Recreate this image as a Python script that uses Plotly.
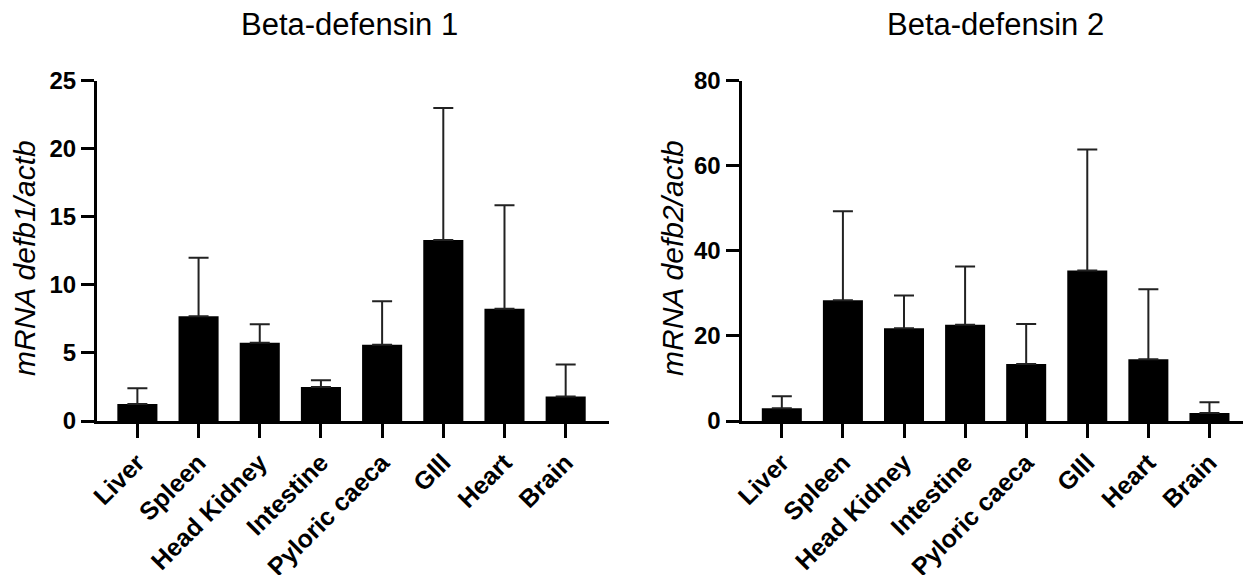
import plotly.graph_objects as go

tissues = ["Liver", "Spleen", "Head Kidney", "Intestine", "Pyloric caeca", "Gill", "Heart", "Brain"]
tick_text = ["Liver", "Spleen", "Head Kidney", "Intestine", "Pyloric caeca", "GIll", "Heart", "Brain"]

defb1_mean = [1.25, 7.7, 5.75, 2.5, 5.6, 13.3, 8.25, 1.8]
defb1_upper = [2.4, 12.0, 7.1, 3.0, 8.8, 23.0, 15.85, 4.15]

defb2_mean = [3.0, 28.4, 21.8, 22.6, 13.4, 35.4, 14.5, 1.9]
defb2_upper = [5.8, 49.3, 29.5, 36.3, 22.8, 63.8, 31.0, 4.4]

titles = ["Beta-defensin 1", "Beta-defensin 2"]
y_titles = ["mRNA defb1/actb", "mRNA defb2/actb"]
y_ticks = [[0, 5, 10, 15, 20, 25], [0, 20, 40, 60, 80]]
y_ranges = [[0, 25], [0, 80]]

# page has an 8px body margin; figure coordinates = page coordinates - 8
OFF = 8
W, H = 1251 - OFF, 575 - OFF
FONT = "Liberation Sans, Arial, sans-serif"

fig = go.Figure()
x_idx = list(range(len(tissues)))

for i, (mean, upper) in enumerate([(defb1_mean, defb1_upper), (defb2_mean, defb2_upper)]):
    fig.add_trace(go.Bar(
        x=x_idx, y=mean,
        marker=dict(color="black", line=dict(color="black", width=0)),
        error_y=dict(type="data", symmetric=False,
                     array=[u - m for u, m in zip(upper, mean)],
                     arrayminus=[0] * len(mean),
                     color="#222222", thickness=2, width=10),
        xaxis="x" if i == 0 else "x2",
        yaxis="y" if i == 0 else "y2",
        showlegend=False,
    ))

def px(x):
    return (x - OFF) / W

def py(y):
    return 1 - (y - OFF) / H

y_dom = [py(421), py(80.7)]
x_doms = [[px(97), px(608.5)], [px(741.5), 1.0]]
x_ranges = [[-0.66, 7.7], [-0.66, 7.68]]
title_x = [349.7, 995.8]
ytitle_x = [24, 672]

layout = dict(
    width=W, height=H,
    margin=dict(l=0, r=0, t=0, b=0),
    paper_bgcolor="white", plot_bgcolor="white",
    bargap=0.345,
    font=dict(family=FONT, color="black"),
    annotations=[],
)

for i in range(2):
    sx = "" if i == 0 else "2"
    layout["xaxis" + sx] = dict(
        domain=x_doms[i], range=x_ranges[i],
        anchor="y" + sx,
        tickmode="array", tickvals=x_idx, ticktext=tick_text,
        tickangle=-45,
        tickfont=dict(family=FONT, size=25, weight="bold", color="black"),
        showline=True, linecolor="black", linewidth=3,
        ticks="outside", ticklen=14, tickwidth=3, tickcolor="black",
        showgrid=False, zeroline=False, automargin=False,
    )
    layout["yaxis" + sx] = dict(
        domain=y_dom, range=y_ranges[i],
        anchor="x" + sx,
        tickmode="array", tickvals=y_ticks[i],
        tickfont=dict(family=FONT, size=24, weight="bold", color="black"),
        showline=True, linecolor="black", linewidth=3,
        ticks="outside", ticklen=13, tickwidth=3, tickcolor="black",
        showgrid=False, zeroline=False, automargin=False,
    )
    layout["annotations"].append(dict(
        text=titles[i], xref="paper", yref="paper",
        x=px(title_x[i]), y=py(24),
        xanchor="center", yanchor="middle", showarrow=False,
        font=dict(family=FONT, size=31, color="black"),
    ))
    layout["annotations"].append(dict(
        text=y_titles[i], xref="paper", yref="paper",
        x=px(ytitle_x[i]), y=py(258), textangle=-90,
        xanchor="center", yanchor="middle", showarrow=False,
        font=dict(family=FONT, size=30, style="italic", color="black"),
    ))

fig.update_layout(**layout)
fig.write_html("out.html")
